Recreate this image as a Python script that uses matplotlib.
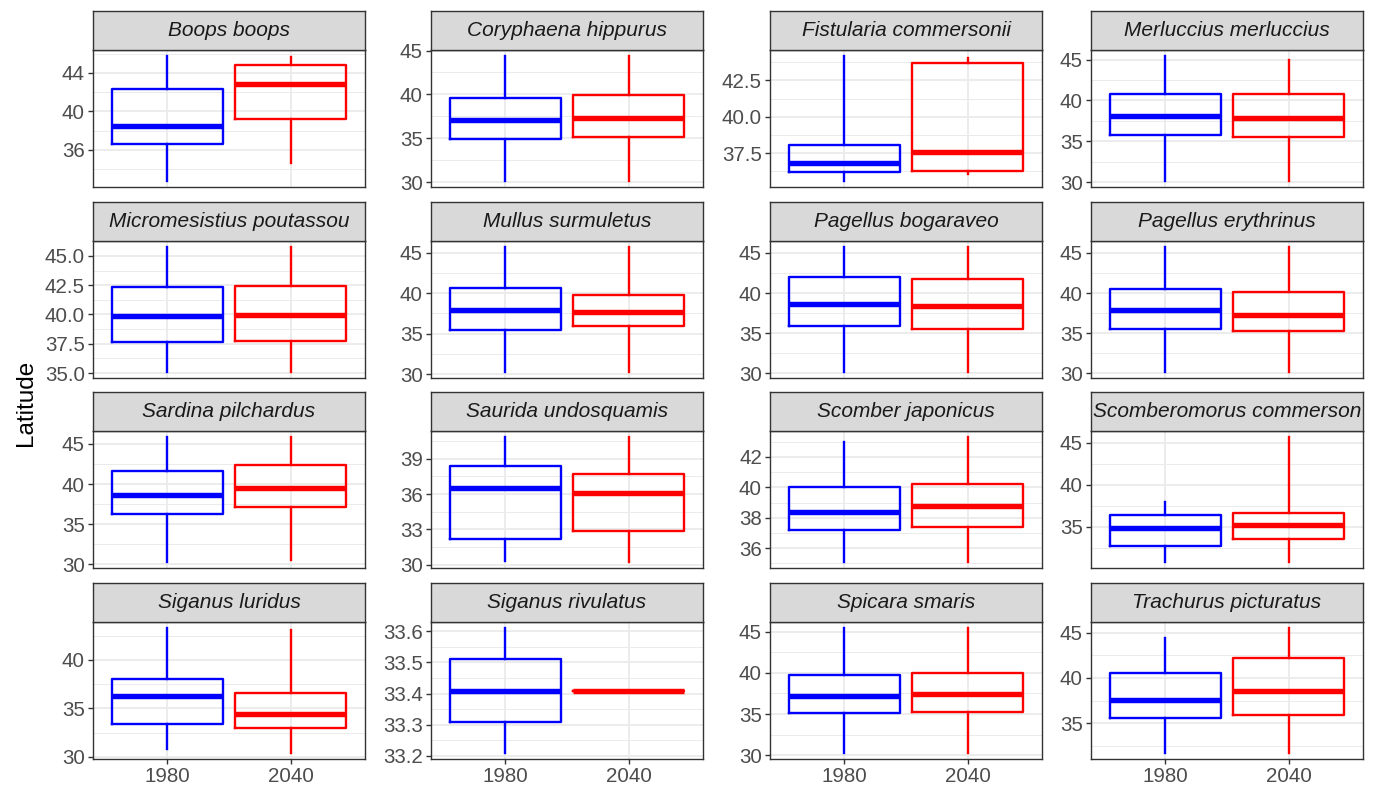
import matplotlib
matplotlib.use('Agg')
import matplotlib.pyplot as plt
from matplotlib.ticker import FixedLocator
import numpy as np

plt.rcParams['font.family'] = ['Liberation Sans', 'DejaVu Sans']

# ---------------- data ----------------
species = [
    'Boops boops', 'Coryphaena hippurus', 'Fistularia commersonii', 'Merluccius merluccius',
    'Micromesistius poutassou', 'Mullus surmuletus', 'Pagellus bogaraveo', 'Pagellus erythrinus',
    'Sardina pilchardus', 'Saurida undosquamis', 'Scomber japonicus', 'Scomberomorus commerson',
    'Siganus luridus', 'Siganus rivulatus', 'Spicara smaris', 'Trachurus picturatus',
]
years = ['1980', '2040']
year_colors = ['#0000FF', '#FF0000']

# five-number summaries: whisker low, Q1, median, Q3, whisker high
stats_1980 = [
    [32.80, 36.62, 38.51, 42.35, 45.72],
    [30.18, 34.94, 37.10, 39.61, 44.35],
    [35.60, 36.22, 36.82, 38.05, 44.16],
    [30.20, 35.73, 38.09, 40.85, 45.40],
    [35.11, 37.67, 39.89, 42.38, 45.74],
    [30.30, 35.44, 37.86, 40.62, 45.66],
    [30.20, 35.90, 38.60, 42.00, 45.70],
    [30.20, 35.50, 37.90, 40.50, 45.70],
    [30.33, 36.29, 38.64, 41.58, 45.83],
    [30.33, 32.16, 36.51, 38.41, 40.83],
    [35.10, 37.20, 38.40, 40.00, 43.00],
    [30.83, 32.69, 34.80, 36.43, 37.93],
    [30.79, 33.35, 36.31, 38.03, 43.28],
    [33.21, 33.31, 33.41, 33.51, 33.61],
    [30.30, 35.10, 37.20, 39.70, 45.40],
    [31.75, 35.55, 37.54, 40.55, 44.38],
]
stats_2040 = [
    [34.62, 39.20, 42.86, 44.86, 45.68],
    [30.18, 35.13, 37.33, 39.90, 44.35],
    [36.06, 36.29, 37.61, 43.71, 44.05],
    [30.20, 35.50, 37.89, 40.73, 45.00],
    [35.11, 37.76, 39.95, 42.47, 45.74],
    [30.30, 35.94, 37.70, 39.80, 45.66],
    [30.20, 35.50, 38.40, 41.70, 45.70],
    [30.20, 35.30, 37.30, 40.10, 45.70],
    [30.50, 37.18, 39.50, 42.33, 45.83],
    [30.25, 32.88, 36.12, 37.74, 40.83],
    [35.10, 37.40, 38.80, 40.20, 43.30],
    [30.83, 33.49, 35.24, 36.67, 45.67],
    [30.41, 33.00, 34.41, 36.55, 43.10],
    [33.41, 33.41, 33.41, 33.41, 33.41],
    [30.30, 35.30, 37.40, 40.00, 45.40],
    [31.75, 35.91, 38.53, 42.25, 45.48],
]
y_breaks = [
    [36, 40, 44],
    [30, 35, 40, 45],
    [37.5, 40.0, 42.5],
    [30, 35, 40, 45],
    [35.0, 37.5, 40.0, 42.5, 45.0],
    [30, 35, 40, 45],
    [30, 35, 40, 45],
    [30, 35, 40, 45],
    [30, 35, 40, 45],
    [30, 33, 36, 39],
    [36, 38, 40, 42],
    [35, 40, 45],
    [30, 35, 40],
    [33.2, 33.3, 33.4, 33.5, 33.6],
    [30, 35, 40, 45],
    [35, 40, 45],
]

# ---------------- layout ----------------
W, H = 1375, 790
fig = plt.figure(figsize=(W / 100, H / 100), dpi=100)
fig.patch.set_facecolor('white')

col_left = [93, 431, 770, 1091]
panel_top = [50, 241, 431, 622]
panel_w, panel_h, strip_h = 272, 137, 39

border = '#333333'
grid_c = '#EBEBEB'
tick_lab = '#4D4D4D'


def fmt_labels(br):
    dec = 0
    for b in br:
        s = ('%.6f' % b).rstrip('0').rstrip('.')
        if '.' in s:
            dec = max(dec, len(s.split('.')[1]))
    return [('%.' + str(dec) + 'f') % b for b in br]


for i, name in enumerate(species):
    r, c = divmod(i, 4)
    l, t = col_left[c], panel_top[r]
    ax = fig.add_axes([l / W, 1 - (t + panel_h) / H, panel_w / W, panel_h / H])
    sax = fig.add_axes([l / W, 1 - t / H, panel_w / W, strip_h / H])

    # strip
    sax.set_facecolor('#D9D9D9')
    sax.set_xticks([]); sax.set_yticks([])
    for sp in sax.spines.values():
        sp.set_color(border); sp.set_linewidth(1.0)
    sax.text(0.5, 0.5, name, ha='center', va='center', fontsize=15,
             style='italic', color='#1A1A1A', transform=sax.transAxes)

    # boxes
    for j, st in enumerate([stats_1980[i], stats_2040[i]]):
        col = year_colors[j]
        d = dict(whislo=st[0], q1=st[1], med=st[2], q3=st[3], whishi=st[4], fliers=[])
        ax.bxp([d], positions=[j + 1], widths=0.9, showcaps=False, showfliers=False,
               manage_ticks=False,
               boxprops=dict(color=col, linewidth=1.7),
               whiskerprops=dict(color=col, linewidth=1.7),
               medianprops=dict(color=col, linewidth=3.9, solid_capstyle='butt'))

    lo = min(stats_1980[i][0], stats_2040[i][0])
    hi = max(stats_1980[i][4], stats_2040[i][4])
    rng = hi - lo
    ymin, ymax = lo - 0.05 * rng, hi + 0.05 * rng
    ax.set_ylim(ymin, ymax)
    ax.set_xlim(0.4, 2.6)

    br = y_breaks[i]
    step = br[1] - br[0]
    minor = np.arange(br[0] - step / 2, br[-1] + step, step)
    minor = [m for m in minor if ymin <= m <= ymax]
    ax.yaxis.set_major_locator(FixedLocator(br))
    ax.set_yticklabels(fmt_labels(br))
    ax.yaxis.set_minor_locator(FixedLocator(minor))
    ax.set_xticks([1, 2])
    ax.set_xticklabels(years)

    ax.set_axisbelow(True)
    ax.grid(True, which='major', color=grid_c, linewidth=1.3)
    ax.grid(True, which='minor', axis='y', color=grid_c, linewidth=0.7)
    for sp in ax.spines.values():
        sp.set_color(border); sp.set_linewidth(1.0)

    ax.tick_params(axis='both', which='major', length=3.8, width=1.0, color=border,
                   labelcolor=tick_lab, labelsize=14.8, pad=2)
    ax.tick_params(axis='y', which='minor', length=0)
    if r < 3:
        ax.tick_params(axis='x', bottom=False, labelbottom=False)

fig.text(26 / W, 1 - 403 / H, 'Latitude', rotation=90, ha='center', va='center',
         fontsize=17.5, color='black')

fig.savefig('out.png', dpi=100, facecolor='white')
